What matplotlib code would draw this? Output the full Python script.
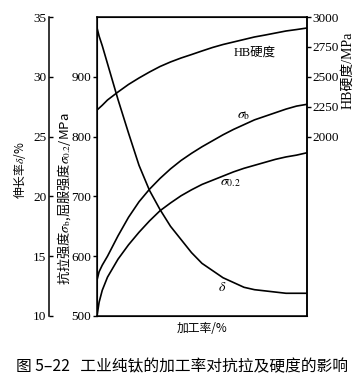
import numpy as np
import matplotlib
matplotlib.use("Agg")
import matplotlib.pyplot as plt

plt.rcParams['font.family'] = ['Liberation Serif', 'Noto Sans CJK SC', 'DejaVu Sans']
plt.rcParams['mathtext.fontset'] = 'stix'

# 加工率 (%)
work_rate = [0, 1, 2.5, 5, 10, 15, 20, 25, 30, 35, 40, 45, 50,
             55, 60, 65, 70, 75, 80, 85, 90, 95, 100]
# HB硬度 / MPa
hb = [2222, 2238, 2262, 2306, 2373, 2436, 2490, 2540, 2586, 2624, 2657, 2686, 2716,
      2745, 2770, 2791, 2812, 2833, 2849, 2866, 2883, 2895, 2908]
# 抗拉强度 sigma_b / MPa
sigma_b = [560, 574, 585, 600, 634, 665, 691, 712, 730, 746, 760, 772, 783,
           793, 803, 812, 820, 828, 834, 840, 846, 851, 854]
# 屈服强度 sigma_0.2 / MPa
sigma_02 = [500, 523, 543, 565, 595, 619, 640, 659, 676, 689, 701, 711, 720,
            727, 734, 741, 747, 752, 757, 762, 766, 769, 773]
# 伸长率 delta / %
delta = [34.1, 33.4, 32.6, 31.1, 28.1, 25.3, 22.6, 20.5, 18.9, 17.5, 16.4, 15.3, 14.4,
         13.8, 13.2, 12.8, 12.4, 12.2, 12.1, 12.0, 11.9, 11.9, 11.9]

mpa_ticks = [500, 600, 700, 800, 900]
hb_ticks = [2000, 2250, 2500, 2750, 3000]
delta_ticks = [10, 15, 20, 25, 30, 35]

W, H = 361, 389
fig = plt.figure(figsize=(W / 100, H / 100), dpi=100)
ax = fig.add_axes([97 / W, 1 - 316 / H, 210 / W, 299 / H])

lw = 1.2
ax.plot(work_rate, sigma_b, color='black', lw=lw)
ax.plot(work_rate, sigma_02, color='black', lw=lw)
ax.set_xlim(0, 100)
ax.set_ylim(500, 1000)
ax.set_xticks([])
ax.set_yticks(mpa_ticks)
ax.tick_params(axis='y', direction='out', length=3, width=1, labelsize=9.5, pad=1)
for s in ax.spines.values():
    s.set_linewidth(1.1)

# HB 轴 (右)
ax_hb = ax.twinx()
ax_hb.plot(work_rate, hb, color='black', lw=lw)
ax_hb.set_ylim(500, 3000)
ax_hb.set_yticks(hb_ticks)
ax_hb.tick_params(axis='y', direction='out', length=3, width=1, labelsize=9.5, pad=1)
ax_hb.spines['right'].set_linewidth(1.1)

# 伸长率轴 (最左), 48 px 外移
ax_d = ax.twinx()
ax_d.plot(work_rate, delta, color='black', lw=lw)
ax_d.set_ylim(10, 35)
ax_d.set_yticks(delta_ticks)
ax_d.yaxis.tick_left()
ax_d.spines['left'].set_position(('outward', 48 * 0.72))
ax_d.spines['left'].set_linewidth(1.1)
for k in ['right', 'top', 'bottom']:
    ax_d.spines[k].set_visible(False)
ax_d.tick_params(axis='y', direction='in', length=3, width=1, labelsize=9.5, pad=2)

# curve labels
ax.text(75, 940, 'HB硬度', fontsize=9, ha='center', va='center')
ax.text(70, 835, r'$\sigma_{\mathrm{b}}$', fontsize=10, ha='center', va='center')
ax.text(63.5, 723, r'$\sigma_{0.2}$', fontsize=10, ha='center', va='center')
ax.text(59.5, 547, r'$\delta$', fontsize=10, ha='center', va='center')

cjk = ['Noto Sans CJK SC', 'DejaVu Sans']
fig.text(20 / W, 1 - 170 / H, r'伸长率$\delta$/%', rotation=90, ha='center', va='center',
         fontsize=8.5, family=cjk)
fig.text(64 / W, 1 - 199 / H, r'抗拉强度$\sigma_{\mathrm{b}}$,屈服强度$\sigma_{0.2}$/MPa', rotation=90,
         ha='center', va='center', fontsize=9.5, family=cjk)
fig.text(348 / W, 1 - 70 / H, 'HB硬度/MPa', rotation=90, ha='center', va='center',
         fontsize=10, family=['Liberation Serif', 'Noto Sans CJK SC'])
fig.text(202 / W, 1 - 328 / H, '加工率/%', ha='center', va='center', fontsize=8.5, family=cjk)
fig.text(182 / W, 1 - 367 / H, '图 5–22   工业纯钛的加工率对抗拉及硬度的影响', ha='center', va='center',
         fontsize=11.3, family=cjk)

fig.savefig('out.png', dpi=100)
